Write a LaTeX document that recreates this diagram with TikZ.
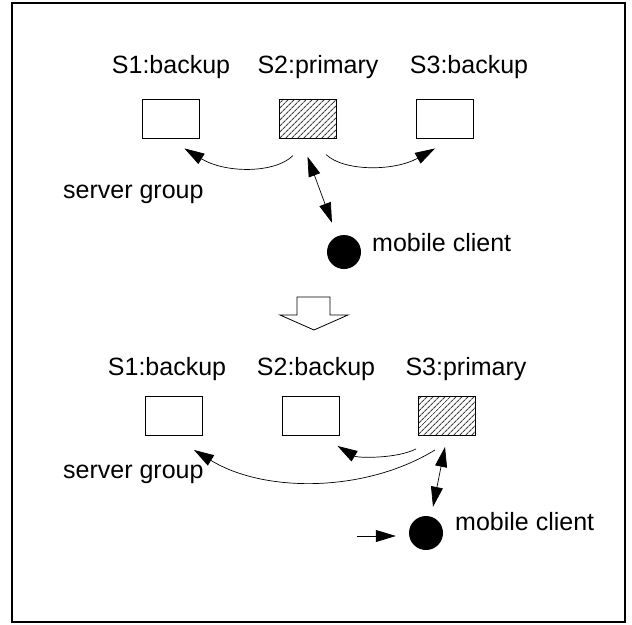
\documentclass[tikz,border=0pt]{standalone}
\usepackage{fontspec}
\setmainfont{Liberation Sans}
\usetikzlibrary{arrows.meta,patterns.meta}

\begin{document}
\begin{tikzpicture}[x=1pt, y=-1pt, font=\fontsize{25}{30}\selectfont,
    srv/.style = {draw, line width=0.9pt, minimum width=57pt, minimum height=39pt, inner sep=0pt},
    prim/.style = {srv, pattern={Lines[angle=45,distance=4pt,line width=1.1pt]}, pattern color=black!75},
    lbl/.style = {anchor=base, inner sep=0pt},
    host/.style = {circle, fill=black, minimum size=34pt, inner sep=0pt},
    arr/.style = {-{Triangle[length=20pt,width=12pt]}, line width=0.7pt},
    dbl/.style = {{Triangle[length=20pt,width=12pt]}-{Triangle[length=20pt,width=12pt]}, line width=0.7pt}]
    \useasboundingbox (0,0) rectangle (632,624);
    \draw[line width=1.3pt] (12,3) rectangle (625,622);

    % before the switch
    \node[srv] (s1a) at (170.5,118.5) {};
    \node[prim] (s2a) at (307.5,118.5) {};
    \node[srv] (s3a) at (445,118.5) {};
    \node[lbl] (l1a) at (171,73) {S1:backup};
    \node[lbl] (l2a) at (318,73) {S2:primary};
    \node[lbl] (l3a) at (469,73) {S3:backup};
    \node[lbl, anchor=base west] (g1) at (63,198) {server group};
    \node[host] (c1) at (344,252) {};
    \node[lbl, anchor=base west] (m1) at (372,251) {mobile client};

    \draw[arr] ([shift={(-14.5,17)}]s2a.south) .. controls +(-18,18) and +(41,25) .. ([shift={(-15,10)}]s1a.south east);
    \draw[arr] ([shift={(18.5,16)}]s2a.south) .. controls +(18,17) and +(-41,23) .. ([shift={(19,10)}]s3a.south west);
    \draw[dbl] ([shift={(0,18)}]s2a.south) -- ([shift={(-12,-12)}]c1.north);

    % hollow arrow
    \draw[line width=0.8pt] (297,297) -- (330,297) -- (330,315) -- (348,315) -- (314,330)
        -- (280,315) -- (297,315) -- cycle;

    % after the switch
    \node[srv] (s1b) at (174,416) {};
    \node[srv] (s2b) at (310.5,416) {};
    \node[prim] (s3b) at (447,416) {};
    \node[lbl] (l1b) at (167,375) {S1:backup};
    \node[lbl] (l2b) at (316,375) {S2:backup};
    \node[lbl] (l3b) at (466,375) {S3:primary};
    \node[lbl, anchor=base west] (g2) at (63,478) {server group};
    \node[host] (c2) at (426,533) {};
    \node[lbl, anchor=base west] (m2) at (455,530) {mobile client};
    \coordinate (in) at (357,536);

    \draw[arr] ([shift={(-12,14)}]s3b.south) .. controls +(-70,43) and +(70,43) .. ([shift={(-9,14)}]s1b.south east);
    \draw[arr] ([shift={(-2,13)}]s3b.south west) .. controls +(-20,10) and +(20,12) .. ([shift={(-2,10)}]s2b.south east);
    \draw[dbl] ([shift={(-2,11)}]s3b.south) -- ([shift={(7,-9)}]c2.north);
    \draw[arr, shorten >=13pt] (in) -- (in -| c2.west);
\end{tikzpicture}
\end{document}
